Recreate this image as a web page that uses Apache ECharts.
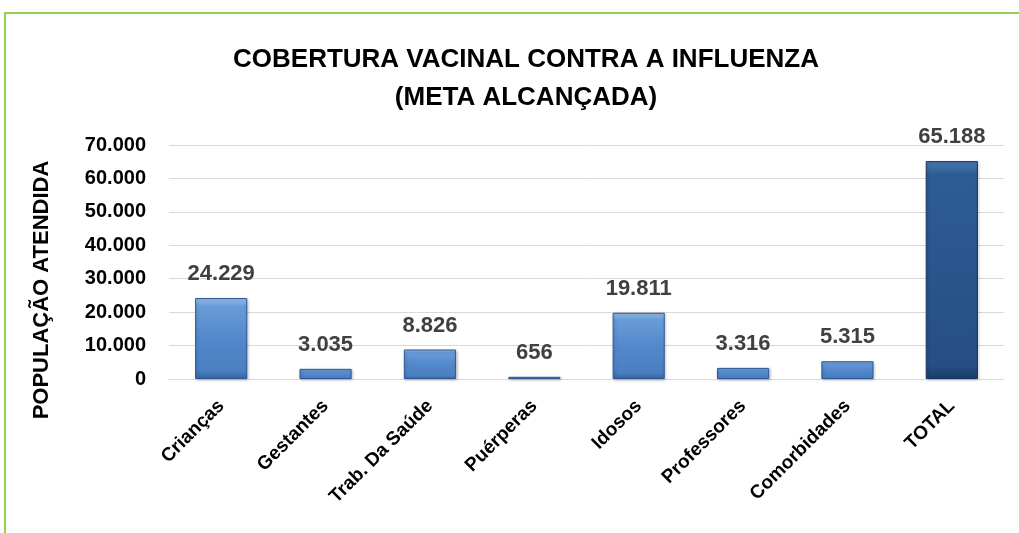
<!DOCTYPE html>
<html>
<head>
<meta charset="utf-8">
<script src="https://cdn.jsdelivr.net/npm/echarts@6/dist/echarts.min.js"></script>
<style>
  body { margin: 0; background: #fff; }
  #main { width: 1019px; height: 533px; }
  .frame { position: absolute; left: 4px; top: 12px; width: 1030px; height: 540px;
           border-top: 2px solid #92d050; border-left: 2px solid #92d050; pointer-events: none; }
</style>
</head>
<body>
<div id="main"></div>
<div class="frame"></div>
<script>
/* categorias */
const categories = ['Crianças', 'Gestantes', 'Trab. Da Saúde', 'Puérperas', 'Idosos', 'Professores', 'Comorbidades', 'TOTAL']
/* valores */
const values = [24229, 3035, 8826, 656, 19811, 3316, 5315, 65188]
/* eixo */
const yMax = 70000
const yStep = 10000

const FONT = '"Liberation Sans Narrow", "Liberation Sans", sans-serif'

function fmt(n){
  return String(n).replace(/\B(?=(\d{3})+(?!\d))/g, '.')
}

const lightBar = new echarts.graphic.LinearGradient(0, 0, 0, 1, [
  { offset: 0, color: '#9cc0ea' },
  { offset: 0.1, color: '#6a9bd8' },
  { offset: 0.5, color: '#5289cc' },
  { offset: 0.9, color: '#4a7fc0' },
  { offset: 1, color: '#3564a0' }
])
const darkBar = new echarts.graphic.LinearGradient(0, 0, 0, 1, [
  { offset: 0, color: '#4d7bb3' },
  { offset: 0.06, color: '#2d5c94' },
  { offset: 0.94, color: '#264f84' },
  { offset: 1, color: '#1a3a66' }
])

const chart = echarts.init(document.getElementById('main'))
chart.setOption({
  animation: false,
  title: {
    text: 'COBERTURA VACINAL CONTRA A INFLUENZA\n(META ALCANÇADA)',
    left: 521,
    textAlign: 'center',
    top: 36,
    textStyle: {
      fontFamily: FONT,
      fontSize: 26,
      fontWeight: 'bold',
      color: '#000',
      lineHeight: 38
    }
  },
  graphic: [{
    type: 'text',
    x: 42,
    y: 290,
    rotation: Math.PI / 2,
    style: {
      text: 'POPULAÇÃO ATENDIDA',
      align: 'center',
      verticalAlign: 'middle',
      font: 'bold 22px "Liberation Sans", sans-serif',
      fill: '#000'
    }
  }],
  grid: { left: 169, right: 15, top: 145, bottom: 154 },
  xAxis: {
    type: 'category',
    data: categories,
    axisTick: { show: false },
    axisLine: { lineStyle: { color: '#d9d9d9', width: 1 } },
    axisLabel: {
      rotate: 45,
      margin: 24,
      interval: 0,
      fontFamily: FONT,
      fontSize: 19,
      fontWeight: 'bold',
      color: '#000'
    }
  },
  yAxis: {
    type: 'value',
    min: 0,
    max: yMax,
    interval: yStep,
    splitLine: { lineStyle: { color: '#d9d9d9', width: 1 } },
    axisLine: { show: false },
    axisTick: { show: false },
    axisLabel: {
      margin: 23,
      fontFamily: FONT,
      fontSize: 20,
      fontWeight: 'bold',
      color: '#000',
      formatter: v => fmt(v)
    }
  },
  series: [{
    type: 'bar',
    barWidth: '50%',
    data: values.map((v, i) => ({
      value: v,
      itemStyle: {
        color: i === values.length - 1 ? darkBar : lightBar,
        borderColor: i === values.length - 1 ? '#17365d' : '#30599a',
        borderWidth: 1,
        shadowColor: 'rgba(0,0,0,0.25)',
        shadowBlur: 3,
        shadowOffsetX: 1,
        shadowOffsetY: 1
      }
    })),
    label: {
      show: true,
      position: 'top',
      distance: 13,
      fontFamily: FONT,
      fontSize: 22,
      fontWeight: 'bold',
      color: '#404040',
      formatter: p => fmt(p.value)
    }
  }]
})
</script>
</body>
</html>
